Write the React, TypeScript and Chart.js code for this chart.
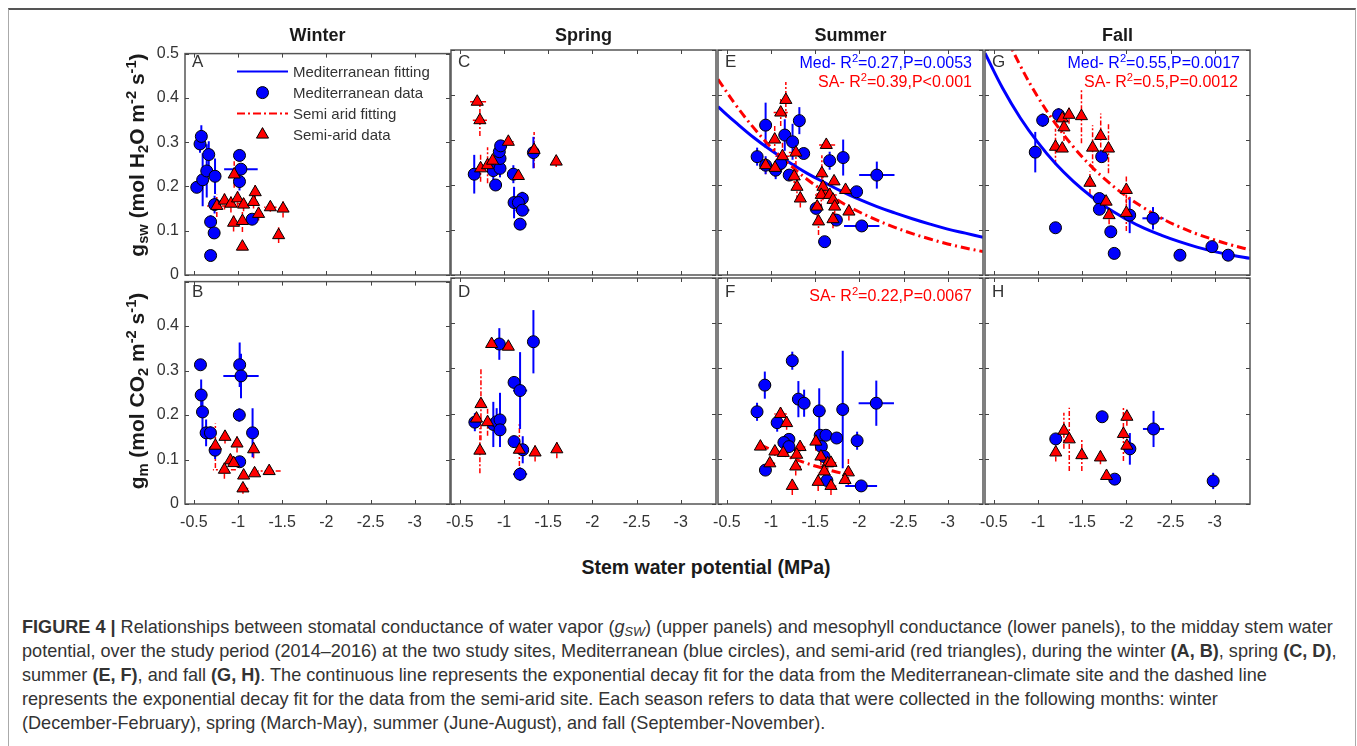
import React, { useEffect, useRef } from 'react';
import { Chart, registerables } from 'chart.js';

Chart.register(...registerables);

const BLUE = '#0000ff';
const RED = '#ff0000';
const FONT = "'Liberation Sans', Arial, Helvetica, sans-serif";

const seasons = ['Winter', 'Spring', 'Summer', 'Fall'];
const upperLetters = ['A', 'C', 'E', 'G'];
const lowerLetters = ['B', 'D', 'F', 'H'];
const xTickValues = [-0.5, -1, -1.5, -2, -2.5, -3];
const yTickValues = [0, 0.1, 0.2, 0.3, 0.4, 0.5];
const X_MIN = -3.4;
const X_MAX = -0.4;
const Y_MIN = 0;
const Y_MAX = 0.5;

// each point: [stem water potential, conductance, x error, y error]
const winterGswMed = [
  [-0.533, 0.198, 0, 0], [-0.57, 0.296, 0, 0.02], [-0.585, 0.313, 0, 0.025], [-0.6, 0.215, 0, 0.06],
  [-0.646, 0.235, 0, 0.06], [-0.669, 0.272, 0, 0.03], [-0.74, 0.223, 0, 0.04], [-0.69, 0.12, 0, 0.015],
  [-0.73, 0.095, 0, 0], [-0.69, 0.044, 0, 0], [-0.735, 0.159, 0, 0.02], [-1.017, 0.27, 0, 0.013],
  [-1.033, 0.239, 0.19, 0], [-1.017, 0.211, 0, 0.02], [-1.16, 0.126, 0.03, 0.01],
];
const winterGswSa = [
  [-0.957, 0.227, 0, 0.03], [-0.76, 0.156, 0.11, 0.025], [-0.847, 0.168, 0, 0.02], [-0.92, 0.161, 0.12, 0.02],
  [-0.995, 0.173, 0, 0.02], [-1.063, 0.159, 0, 0.015], [-1.176, 0.165, 0.05, 0.015], [-1.195, 0.187, 0, 0.02],
  [-1.233, 0.138, 0.05, 0.015], [-1.366, 0.153, 0.07, 0.01], [-1.51, 0.15, 0.05, 0.02], [-0.95, 0.118, 0.06, 0.02],
  [-1.05, 0.122, 0, 0.025], [-1.05, 0.064, 0, 0], [-1.46, 0.09, 0, 0.018],
];
const springGswMed = [
  [-0.663, 0.224, 0, 0.043], [-0.905, 0.2, 0, 0], [-0.879, 0.232, 0, 0.03], [-0.955, 0.237, 0.05, 0.02],
  [-0.955, 0.259, 0, 0.02], [-0.947, 0.274, 0, 0], [-0.962, 0.287, 0, 0], [-1.106, 0.224, 0, 0.02],
  [-1.114, 0.161, 0.05, 0.035], [-1.208, 0.17, 0.06, 0.015], [-1.163, 0.161, 0.04, 0], [-1.208, 0.144, 0.08, 0.01],
  [-1.182, 0.113, 0.07, 0.01], [-1.333, 0.272, 0, 0.035],
];
const springGswSa = [
  [-0.697, 0.385, 0.1, 0], [-0.727, 0.344, 0.08, 0.035], [-0.735, 0.237, 0, 0.03], [-0.814, 0.244, 0, 0.04],
  [-0.871, 0.254, 0, 0.02], [-1.049, 0.296, 0.06, 0], [-1.163, 0.22, 0, 0], [-1.341, 0.278, 0, 0.04],
  [-1.591, 0.252, 0, 0.012],
];
const summerGswMed = [
  [-0.843, 0.263, 0, 0.02], [-0.939, 0.333, 0, 0.05], [-0.939, 0.244, 0, 0.02], [-1.053, 0.233, 0, 0.02],
  [-1.156, 0.311, 0, 0.035], [-1.244, 0.296, 0, 0.04], [-1.321, 0.343, 0, 0.03], [-1.206, 0.222, 0, 0],
  [-1.37, 0.27, 0.05, 0], [-1.664, 0.254, 0, 0.02], [-1.817, 0.261, 0, 0.04], [-2.198, 0.222, 0.2, 0.03],
  [-1.969, 0.185, 0.05, 0], [-1.511, 0.148, 0, 0], [-2.027, 0.109, 0.2, 0], [-1.607, 0.074, 0.07, 0],
  [-1.74, 0.122, 0, 0], [-1.11, 0.248, 0, 0],
];
const summerGswSa = [
  [-1.168, 0.389, 0, 0.04], [-1.11, 0.361, 0.08, 0.03], [-1.042, 0.301, 0, 0.03], [-1.13, 0.264, 0.08, 0.03],
  [-1.282, 0.272, 0.08, 0.03], [-1.626, 0.289, 0.1, 0], [-0.939, 0.244, 0, 0.02], [-1.046, 0.238, 0, 0.02],
  [-1.263, 0.219, 0.06, 0.03], [-1.294, 0.196, 0, 0.03], [-1.332, 0.17, 0, 0.02], [-1.576, 0.226, 0, 0.04],
  [-1.588, 0.196, 0.04, 0.03], [-1.714, 0.208, 0, 0], [-1.569, 0.178, 0.07, 0.03], [-1.664, 0.178, 0.08, 0.02],
  [-1.702, 0.167, 0, 0.02], [-1.844, 0.189, 0.07, 0], [-1.523, 0.152, 0, 0.03], [-1.702, 0.124, 0.05, 0.02],
  [-1.882, 0.141, 0, 0.02], [-1.538, 0.119, 0, 0.03], [-1.721, 0.152, 0, 0.02],
];
const fallGswMed = [
  [-1.053, 0.344, 0.06, 0.015], [-1.233, 0.356, 0, 0.015], [-0.969, 0.273, 0, 0.045], [-1.721, 0.263, 0, 0],
  [-1.695, 0.17, 0, 0], [-1.695, 0.146, 0, 0], [-2.038, 0.133, 0.05, 0.04], [-2.302, 0.126, 0.12, 0.025],
  [-1.198, 0.105, 0, 0], [-1.824, 0.096, 0, 0], [-1.863, 0.048, 0, 0], [-2.607, 0.044, 0, 0],
  [-2.969, 0.063, 0, 0.012], [-3.153, 0.044, 0.07, 0],
];
const fallGswSa = [
  [-1.275, 0.348, 0, 0.02], [-1.351, 0.356, 0, 0.02], [-1.492, 0.353, 0, 0.06], [-1.294, 0.328, 0, 0.03],
  [-1.198, 0.285, 0, 0.04], [-1.275, 0.281, 0, 0], [-1.618, 0.283, 0, 0.05], [-1.71, 0.309, 0, 0.05],
  [-1.798, 0.281, 0, 0.055], [-1.588, 0.205, 0, 0.025], [-2.0, 0.189, 0, 0.03], [-1.771, 0.163, 0, 0],
  [-1.805, 0.133, 0, 0.02], [-2.0, 0.138, 0, 0.04],
];
const winterGmMed = [
  [-0.575, 0.313, 0, 0], [-0.583, 0.245, 0, 0.035], [-0.598, 0.207, 0, 0.04], [-0.639, 0.16, 0, 0.03],
  [-0.688, 0.16, 0, 0.015], [-0.741, 0.121, 0, 0.02], [-1.019, 0.313, 0, 0.05], [-1.034, 0.288, 0.2, 0.05],
  [-1.015, 0.2, 0, 0.015], [-1.165, 0.16, 0, 0.055], [-1.019, 0.095, 0, 0.01],
];
const winterGmSa = [
  [-0.744, 0.131, 0, 0.05], [-0.853, 0.151, 0, 0.015], [-0.989, 0.136, 0, 0.02], [-1.177, 0.123, 0, 0.02],
  [-0.914, 0.098, 0, 0.015], [-0.951, 0.092, 0, 0], [-0.846, 0.077, 0.13, 0.02], [-1.064, 0.064, 0, 0],
  [-1.188, 0.069, 0, 0], [-1.353, 0.074, 0.13, 0], [-1.056, 0.035, 0.06, 0.012],
];
const springGmMed = [
  [-0.67, 0.181, 0, 0.02], [-0.879, 0.176, 0, 0.05], [-0.917, 0.182, 0, 0.03], [-0.955, 0.186, 0.05, 0.06],
  [-0.955, 0.164, 0, 0.02], [-0.947, 0.354, 0, 0.035], [-1.333, 0.359, 0, 0.07], [-1.114, 0.269, 0, 0],
  [-1.182, 0.251, 0.08, 0.085], [-1.114, 0.138, 0, 0], [-1.212, 0.12, 0, 0.03], [-1.182, 0.066, 0.08, 0.015],
];
const springGmSa = [
  [-0.86, 0.354, 0, 0], [-1.049, 0.348, 0, 0], [-0.739, 0.221, 0, 0.08], [-0.689, 0.189, 0.06, 0],
  [-0.814, 0.181, 0, 0.03], [-0.727, 0.118, 0.03, 0.05], [-1.174, 0.12, 0.05, 0.06], [-1.352, 0.114, 0, 0.02],
  [-1.598, 0.121, 0, 0.02],
];
const summerGmMed = [
  [-1.241, 0.317, 0, 0.02], [-0.93, 0.263, 0.07, 0.03], [-1.31, 0.232, 0, 0.04], [-1.375, 0.223, 0, 0.03],
  [-0.842, 0.204, 0, 0.02], [-1.546, 0.206, 0.07, 0.05], [-1.812, 0.209, 0, 0.13], [-2.192, 0.223, 0.2, 0.05],
  [-1.07, 0.18, 0.05, 0.02], [-1.203, 0.143, 0, 0], [-1.146, 0.136, 0, 0], [-1.203, 0.127, 0, 0],
  [-1.557, 0.152, 0, 0], [-1.622, 0.152, 0, 0], [-1.743, 0.146, 0, 0], [-1.975, 0.14, 0, 0.02],
  [-0.937, 0.075, 0, 0], [-1.57, 0.127, 0, 0], [-1.633, 0.052, 0, 0], [-2.021, 0.04, 0.18, 0],
  [-1.6, 0.105, 0, 0],
];
const summerGmSa = [
  [-1.108, 0.199, 0.07, 0.015], [-1.177, 0.179, 0, 0.015], [-0.88, 0.127, 0.05, 0], [-1.044, 0.116, 0.06, 0.01],
  [-1.139, 0.113, 0.06, 0], [-1.329, 0.126, 0.06, 0.01], [-1.291, 0.109, 0, 0.02], [-1.508, 0.138, 0.06, 0.02],
  [-1.565, 0.105, 0.06, 0.02], [-1.641, 0.09, 0, 0.02], [-1.679, 0.091, 0.06, 0], [-0.987, 0.09, 0.06, 0],
  [-1.28, 0.083, 0.06, 0.02], [-1.603, 0.072, 0.05, 0.02], [-1.876, 0.07, 0, 0.03], [-1.241, 0.04, 0, 0.02],
  [-1.534, 0.049, 0.06, 0.02], [-1.679, 0.04, 0.06, 0.02], [-1.838, 0.053, 0.05, 0],
];
const fallGmMed = [
  [-1.201, 0.144, 0, 0], [-1.726, 0.193, 0, 0], [-2.04, 0.122, 0.05, 0.035], [-2.308, 0.166, 0.12, 0.04],
  [-1.868, 0.055, 0, 0], [-2.983, 0.051, 0, 0.018],
];
const fallGmSa = [
  [-1.293, 0.162, 0, 0.04], [-1.354, 0.143, 0, 0.07], [-1.201, 0.114, 0, 0.02], [-1.496, 0.108, 0, 0.035],
  [-1.707, 0.103, 0, 0.015], [-1.776, 0.062, 0, 0], [-2.006, 0.193, 0, 0.02], [-1.967, 0.155, 0, 0.06],
  [-2.006, 0.129, 0, 0],
];

// fitted curves
const fitX = [-0.4, -0.6, -0.8, -1.0, -1.2, -1.4, -1.6, -1.8, -2.0, -2.2, -2.4, -2.6, -2.8, -3.0, -3.2, -3.4];
const summerGswMedFit = [0.374, 0.339, 0.306, 0.277, 0.251, 0.227, 0.206, 0.186, 0.168, 0.152, 0.138, 0.125, 0.113, 0.102, 0.093, 0.084];
const summerGswSaFit = [0.435, 0.378, 0.328, 0.284, 0.247, 0.214, 0.186, 0.161, 0.14, 0.122, 0.106, 0.092, 0.08, 0.069, 0.06, 0.052];
const fallGswMedFit = [0.493, 0.415, 0.349, 0.294, 0.247, 0.208, 0.175, 0.147, 0.124, 0.104, 0.088, 0.074, 0.062, 0.052, 0.044, 0.037];
const fallGswSaFit = [0.644, 0.547, 0.465, 0.395, 0.336, 0.285, 0.242, 0.206, 0.175, 0.149, 0.126, 0.107, 0.091, 0.078, 0.066, 0.056];
const summerGmSaFitX = [-0.88, -1.1, -1.3, -1.5, -1.7, -1.89];
const summerGmSaFit = [0.131, 0.112, 0.097, 0.084, 0.073, 0.064];

const legendLabels = ['Mediterranean fitting', 'Mediterranean data', 'Semi arid fitting', 'Semi-arid data'];

const SA_DASH = [9, 4, 2, 4];

// layout (page pixels)
const PLOT_LEFT = [185, 451, 718, 985];
const PLOT_W = 265;
const PLOT_TOP = [50, 278];
const PLOT_H = [225, 226];
const PAD_L = 50;
const PAD_T = 12;
const PAD_R = 12;
const PAD_B = 36;
const Y_AXIS_W = 44;
const X_AXIS_H = 30;

const panels = [
  { col: 0, row: 0, med: winterGswMed, sa: winterGswSa, fits: [], legend: true },
  { col: 1, row: 0, med: springGswMed, sa: springGswSa, fits: [] },
  { col: 2, row: 0, med: summerGswMed, sa: summerGswSa, fits: [
    { x: fitX, y: summerGswSaFit, color: RED, dash: SA_DASH },
    { x: fitX, y: summerGswMedFit, color: BLUE, dash: [] },
  ] },
  { col: 3, row: 0, med: fallGswMed, sa: fallGswSa, fits: [
    { x: fitX, y: fallGswSaFit, color: RED, dash: SA_DASH },
    { x: fitX, y: fallGswMedFit, color: BLUE, dash: [] },
  ] },
  { col: 0, row: 1, med: winterGmMed, sa: winterGmSa, fits: [] },
  { col: 1, row: 1, med: springGmMed, sa: springGmSa, fits: [] },
  { col: 2, row: 1, med: summerGmMed, sa: summerGmSa, fits: [
    { x: summerGmSaFitX, y: summerGmSaFit, color: RED, dash: SA_DASH },
  ] },
  { col: 3, row: 1, med: fallGmMed, sa: fallGmSa, fits: [] },
];

const errorBarPlugin = {
  id: 'errorBars',
  beforeDatasetsDraw(chart: any) {
    const { ctx, chartArea: a, scales } = chart;
    const xs = scales.x;
    const ys = scales.y;
    ctx.save();
    ctx.beginPath();
    ctx.rect(a.left, a.top, a.right - a.left, a.bottom - a.top);
    ctx.clip();
    chart.data.datasets.forEach((ds: any) => {
      if (!ds.errColor) return;
      ctx.strokeStyle = ds.errColor;
      ctx.lineWidth = ds.errWidth;
      ctx.setLineDash(ds.errDash);
      ds.data.forEach((p: any) => {
        const px = xs.getPixelForValue(p.x);
        const py = ys.getPixelForValue(p.y);
        if (p.ey) {
          ctx.beginPath();
          ctx.moveTo(px, ys.getPixelForValue(p.y - p.ey));
          ctx.lineTo(px, ys.getPixelForValue(p.y + p.ey));
          ctx.stroke();
        }
        if (p.ex) {
          ctx.beginPath();
          ctx.moveTo(xs.getPixelForValue(p.x - p.ex), py);
          ctx.lineTo(xs.getPixelForValue(p.x + p.ex), py);
          ctx.stroke();
        }
      });
    });
    ctx.restore();
  },
};

const framePlugin = {
  id: 'frame',
  afterDraw(chart: any) {
    const { ctx, chartArea: a, scales } = chart;
    const xs = scales.x;
    const ys = scales.y;
    ctx.save();
    ctx.setLineDash([]);
    ctx.strokeStyle = '#555';
    ctx.lineWidth = 1.5;
    ctx.strokeRect(a.left, a.top, a.right - a.left, a.bottom - a.top);
    ctx.lineWidth = 1;
    ctx.strokeStyle = '#444';
    const L = 4;
    const seg = (x1: number, y1: number, x2: number, y2: number) => {
      ctx.beginPath();
      ctx.moveTo(x1, y1);
      ctx.lineTo(x2, y2);
      ctx.stroke();
    };
    xTickValues.forEach((v) => {
      const px = Math.round(xs.getPixelForValue(v)) + 0.5;
      seg(px, a.bottom, px, a.bottom - L);
      seg(px, a.top, px, a.top + L);
    });
    yTickValues.forEach((v) => {
      const py = Math.round(ys.getPixelForValue(v)) + 0.5;
      seg(a.left, py, a.left + L, py);
      seg(a.right, py, a.right - L, py);
    });
    ctx.restore();
  },
};

const legendPlugin = {
  id: 'panelLegend',
  afterDraw(chart: any) {
    const { ctx, chartArea: a } = chart;
    ctx.save();
    const x0 = a.left + 52;
    const x1 = a.left + 103;
    const cx = (x0 + x1) / 2;
    legendLabels.forEach((label, i) => {
      const y = a.top + 18 + i * 21;
      if (i === 0 || i === 2) {
        ctx.strokeStyle = i === 0 ? BLUE : RED;
        ctx.lineWidth = 2;
        ctx.setLineDash(i === 0 ? [] : [8, 3, 2, 3]);
        ctx.beginPath();
        ctx.moveTo(x0, y);
        ctx.lineTo(x1, y);
        ctx.stroke();
      } else if (i === 1) {
        ctx.setLineDash([]);
        ctx.fillStyle = BLUE;
        ctx.strokeStyle = '#000';
        ctx.lineWidth = 1;
        ctx.beginPath();
        ctx.arc(cx, y, 6, 0, Math.PI * 2);
        ctx.fill();
        ctx.stroke();
      } else {
        ctx.setLineDash([]);
        ctx.fillStyle = RED;
        ctx.strokeStyle = '#000';
        ctx.lineWidth = 1;
        const r = 7;
        ctx.beginPath();
        for (let k = 0; k < 3; k++) {
          const ang = (k * 2 * Math.PI) / 3;
          const px = cx + Math.sin(ang) * r;
          const py = y - Math.cos(ang) * r;
          if (k === 0) ctx.moveTo(px, py);
          else ctx.lineTo(px, py);
        }
        ctx.closePath();
        ctx.fill();
        ctx.stroke();
      }
      ctx.fillStyle = '#333';
      ctx.font = `15px ${FONT}`;
      ctx.textBaseline = 'middle';
      ctx.textAlign = 'left';
      ctx.fillText(label, x1 + 5, y + 1);
    });
    ctx.restore();
  },
};

function toPoints(arr: number[][]) {
  return arr.map(([x, y, ex, ey]) => ({ x, y, ex, ey }));
}

function Panel(props: any) {
  const { col, row, med, sa, fits, legend } = props;
  const ref = useRef<HTMLCanvasElement | null>(null);
  const W = PAD_L + PLOT_W + PAD_R;
  const H = PAD_T + PLOT_H[row] + PAD_B;
  const left = PLOT_LEFT[col] - PAD_L;
  const top = PLOT_TOP[row] - PAD_T;

  useEffect(() => {
    const datasets: any[] = [
      {
        type: 'scatter',
        data: toPoints(sa),
        pointStyle: 'triangle',
        pointRadius: 7,
        backgroundColor: RED,
        borderColor: '#000',
        borderWidth: 1,
        errColor: RED,
        errDash: [5, 2, 2, 2],
        errWidth: 1.5,
      },
      {
        type: 'scatter',
        data: toPoints(med),
        pointStyle: 'circle',
        pointRadius: 6,
        backgroundColor: BLUE,
        borderColor: '#000',
        borderWidth: 1,
        errColor: BLUE,
        errDash: [],
        errWidth: 2,
      },
      ...fits.map((f: any) => ({
        type: 'line',
        data: f.x.map((x: number, i: number) => ({ x, y: f.y[i] })),
        borderColor: f.color,
        borderWidth: 3,
        borderDash: f.dash,
        pointRadius: 0,
        tension: 0.4,
        fill: false,
      })),
    ];
    const tickFont = { family: FONT, size: 16 };
    const showX = row === 1;
    const showY = col === 0;
    const chart = new Chart(ref.current as HTMLCanvasElement, {
      type: 'scatter',
      data: { datasets },
      options: {
        animation: false,
        responsive: false,
        events: [],
        layout: {
          padding: {
            left: showY ? PAD_L - Y_AXIS_W : PAD_L,
            top: PAD_T,
            right: PAD_R,
            bottom: showX ? PAD_B - X_AXIS_H : PAD_B,
          },
        },
        plugins: { legend: { display: false }, tooltip: { enabled: false } },
        scales: {
          x: {
            type: 'linear',
            min: X_MIN,
            max: X_MAX,
            reverse: true,
            display: showX,
            afterBuildTicks: (s: any) => {
              s.ticks = xTickValues.map((v) => ({ value: v }));
            },
            afterFit: (s: any) => {
              s.height = showX ? X_AXIS_H : 0;
            },
            grid: { display: false, drawTicks: false },
            border: { display: false },
            ticks: {
              font: tickFont,
              color: '#333',
              padding: 9,
              maxRotation: 0,
              autoSkip: false,
              callback: (v: any) => String(v),
            },
          },
          y: {
            type: 'linear',
            min: Y_MIN,
            max: Y_MAX,
            display: showY,
            afterBuildTicks: (s: any) => {
              s.ticks = yTickValues.map((v) => ({ value: v }));
            },
            afterFit: (s: any) => {
              s.width = showY ? Y_AXIS_W : 0;
            },
            grid: { display: false, drawTicks: false },
            border: { display: false },
            ticks: {
              font: tickFont,
              color: '#333',
              padding: 6,
              autoSkip: false,
              callback: (v: any) => (row === 1 && v >= 0.45 ? '' : String(Math.round(v * 10) / 10)),
            },
          },
        },
      } as any,
      plugins: legend ? [errorBarPlugin, framePlugin, legendPlugin] : [errorBarPlugin, framePlugin],
    } as any);
    return () => chart.destroy();
  }, []);

  return (
    <canvas
      ref={ref}
      width={W}
      height={H}
      style={{ position: 'absolute', left, top, width: W, height: H }}
    />
  );
}

const sup = (t: string) => (
  <sup style={{ fontSize: '0.7em', verticalAlign: '0.55em', lineHeight: 0 }}>{t}</sup>
);
const sub = (t: string) => (
  <sub style={{ fontSize: '0.7em', verticalAlign: '-0.3em', lineHeight: 0 }}>{t}</sub>
);

function Annot(props: any) {
  const { right, top, color, children } = props;
  return (
    <div
      style={{
        position: 'absolute',
        right: 1357 - right,
        top,
        color,
        fontSize: 16,
        lineHeight: '16px',
        whiteSpace: 'nowrap',
      }}
    >
      {children}
    </div>
  );
}

export default function App() {
  return (
    <div
      style={{
        position: 'relative',
        width: 1357,
        height: 746,
        overflow: 'hidden',
        background: '#fff',
        fontFamily: FONT,
      }}
    >
      <style>{'html,body{margin:0;padding:0;overflow:hidden;background:#fff;}'}</style>
      <div
        style={{
          position: 'absolute',
          left: 8,
          top: 8,
          width: 1346,
          height: 760,
          borderTop: '2px solid #555',
          borderLeft: '1px solid #aaa',
          borderRight: '1px solid #aaa',
        }}
      />
      {panels.map((p, i) => (
        <Panel key={i} {...p} />
      ))}
      {seasons.map((s, i) => (
        <div
          key={s}
          style={{
            position: 'absolute',
            left: PLOT_LEFT[i] + PLOT_W / 2,
            top: 35,
            transform: 'translate(-50%, -50%)',
            fontWeight: 'bold',
            fontSize: 18,
            color: '#1a1a1a',
            whiteSpace: 'nowrap',
          }}
        >
          {s}
        </div>
      ))}
      {upperLetters.map((l, i) => (
        <div
          key={l}
          style={{ position: 'absolute', left: PLOT_LEFT[i] + 7, top: 53, fontSize: 17, lineHeight: '17px', color: '#333' }}
        >
          {l}
        </div>
      ))}
      {lowerLetters.map((l, i) => (
        <div
          key={l}
          style={{ position: 'absolute', left: PLOT_LEFT[i] + 7, top: 283, fontSize: 17, lineHeight: '17px', color: '#333' }}
        >
          {l}
        </div>
      ))}
      <Annot right={972} top={55} color={BLUE}>Med- R{sup('2')}=0.27,P=0.0053</Annot>
      <Annot right={972} top={74} color={RED}>SA- R{sup('2')}=0.39,P&lt;0.001</Annot>
      <Annot right={1240} top={55} color={BLUE}>Med- R{sup('2')}=0.55,P=0.0017</Annot>
      <Annot right={1238} top={74} color={RED}>SA- R{sup('2')}=0.5,P=0.0012</Annot>
      <Annot right={972} top={288} color={RED}>SA- R{sup('2')}=0.22,P=0.0067</Annot>
      <div
        style={{
          position: 'absolute',
          left: 137,
          top: 155,
          transform: 'translate(-50%, -50%) rotate(-90deg)',
          fontWeight: 'bold',
          fontSize: 21,
          whiteSpace: 'nowrap',
          color: '#1a1a1a',
        }}
      >
        g{sub('sw')} (mol H{sub('2')}O m{sup('-2')} s{sup('-1')})
      </div>
      <div
        style={{
          position: 'absolute',
          left: 137,
          top: 391,
          transform: 'translate(-50%, -50%) rotate(-90deg)',
          fontWeight: 'bold',
          fontSize: 21,
          whiteSpace: 'nowrap',
          color: '#1a1a1a',
        }}
      >
        g{sub('m')} (mol CO{sub('2')} m{sup('-2')} s{sup('-1')})
      </div>
      <div
        style={{
          position: 'absolute',
          left: 706,
          top: 567,
          transform: 'translate(-50%, -50%)',
          fontWeight: 'bold',
          fontSize: 19.5,
          whiteSpace: 'nowrap',
          color: '#1a1a1a',
        }}
      >
        Stem water potential (MPa)
      </div>
      <div
        style={{
          position: 'absolute',
          left: 22,
          top: 615,
          fontSize: 18.1,
          lineHeight: '24px',
          color: '#333',
          whiteSpace: 'nowrap',
        }}
      >
        <div style={{ height: 24 }}>
          <b>FIGURE 4 |</b> Relationships between stomatal conductance of water vapor (<i>g<sub style={{ fontSize: '0.7em', lineHeight: 0, verticalAlign: '-0.25em' }}>SW</sub></i>) (upper panels) and mesophyll conductance (lower panels), to the midday stem water
        </div>
        <div style={{ height: 24 }}>
          potential, over the study period (2014–2016) at the two study sites, Mediterranean (blue circles), and semi-arid (red triangles), during the winter <b>(A, B)</b>, spring <b>(C, D)</b>,
        </div>
        <div style={{ height: 24 }}>
          summer <b>(E, F)</b>, and fall <b>(G, H)</b>. The continuous line represents the exponential decay fit for the data from the Mediterranean-climate site and the dashed line
        </div>
        <div style={{ height: 24 }}>
          represents the exponential decay fit for the data from the semi-arid site. Each season refers to data that were collected in the following months: winter
        </div>
        <div style={{ height: 24 }}>(December-February), spring (March-May), summer (June-August), and fall (September-November).</div>
      </div>
    </div>
  );
}
